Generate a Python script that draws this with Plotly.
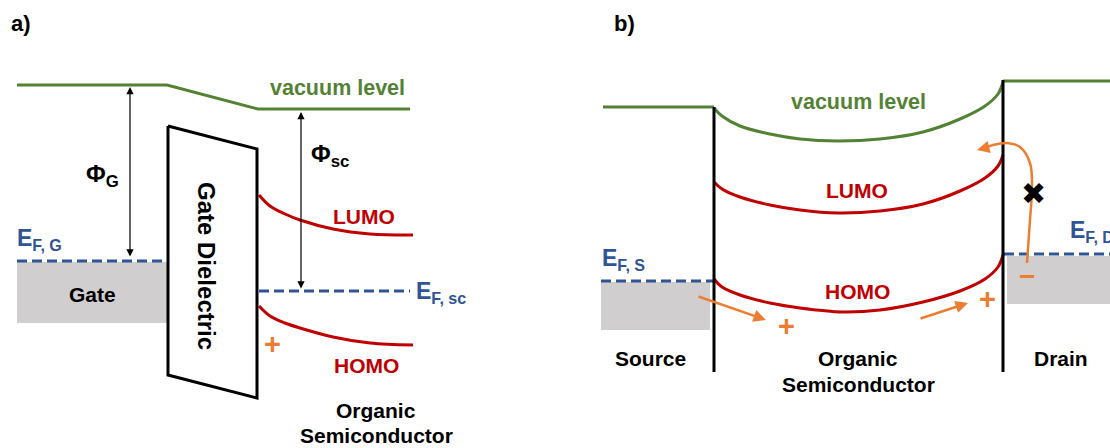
import plotly.graph_objects as go

# ---------- colours ----------
GREEN = "#548235"
RED = "#c00000"
BLUE = "#2f5597"
ORANGE = "#ed7d31"
GRAY = "#d0cece"
FONT = "Liberation Sans"

# ---------- panel a data (pixel-space diagram coordinates) ----------
a_vac_x = [17, 167, 258, 410]
a_vac_y = [85, 85, 109, 109]
a_diel_x = [168, 257, 257, 168, 168]
a_diel_y = [126, 149, 398, 375, 126]
a_gate_x = [17, 167]
a_gate_y = [262, 323]
a_efg_x = [17, 167]
a_efg_y = [261, 261]
a_efsc_x = [259, 410]
a_efsc_y = [291, 291]
a_lumo_x = [259, 270, 285, 300, 333, 370, 413]
a_lumo_y = [195, 206, 214, 220, 229, 234, 235]
a_homo_x = [259, 270, 285, 300, 333, 370, 413]
a_homo_y = [306, 316, 323, 328, 337, 343, 345]

# ---------- panel b data ----------
b_vac_left_x = [603, 714]
b_vac_left_y = [107, 107]
b_vac_right_x = [1003, 1110]
b_vac_right_y = [81, 81]
b_vac_x = [714, 722, 740, 770, 800, 838, 880, 923, 960, 985, 998, 1003]
b_vac_y = [108, 116, 126, 134, 139, 141, 139, 132, 119, 106, 94, 82]
b_lumo_x = [714, 722, 740, 770, 800, 838, 880, 923, 960, 985, 998, 1003]
b_lumo_y = [182, 189, 197, 205, 210, 213, 211, 204, 191, 178, 166, 155]
b_homo_x = [714, 722, 740, 770, 800, 843, 880, 923, 960, 985, 998, 1003]
b_homo_y = [279, 287, 295, 303, 308, 312, 310, 302, 291, 279, 267, 255]
b_wall_x = [714, 1003]
b_wall_top = [107, 80]
b_wall_bottom = [372, 372]
b_src_x = [601, 710]
b_src_y = [282, 330]
b_drn_x = [1007, 1110]
b_drn_y = [256, 304]
b_efs_x = [601, 713]
b_efs_y = [281, 281]
b_efd_x = [1004, 1110]
b_efd_y = [254, 254]
b_hop_x = [1027, 1030, 1032, 1030, 1020, 1007, 993, 985]
b_hop_y = [263, 220, 187, 163, 147, 143, 145, 148]

fig = go.Figure()


def line(x, y, color, width=3, dash=None, shape="linear"):
    fig.add_trace(go.Scatter(x=x, y=y, mode="lines", line=dict(color=color, width=width,
                             dash=dash, shape=shape, smoothing=1.0),
                             hoverinfo="skip", showlegend=False))


def text(x, y, s, color="black", size=21, angle=0, xanchor="center", bold=True):
    fig.add_annotation(x=x, y=y, text=f"<b>{s}</b>" if bold else s, showarrow=False,
                       font=dict(family=FONT, size=size, color=color), textangle=angle,
                       xanchor=xanchor, yanchor="middle")


def arrow(x0, y0, x1, y1, color, width=1, head=2, size=1.0, both=False):
    fig.add_annotation(x=x1, y=y1, ax=x0, ay=y0, xref="x", yref="y", axref="x", ayref="y",
                       text="", showarrow=True, arrowhead=head, arrowsize=size,
                       arrowwidth=width, arrowcolor=color,
                       arrowside="end+start" if both else "end", startarrowhead=head,
                       startarrowsize=size)


shapes = []
for xs, ys in [(a_gate_x, a_gate_y), (b_src_x, b_src_y), (b_drn_x, b_drn_y)]:
    shapes.append(dict(type="rect", x0=xs[0], x1=xs[1], y0=ys[0], y1=ys[1],
                       fillcolor=GRAY, line=dict(width=0), layer="below"))
fig.update_layout(shapes=shapes)

# ---------- panel a ----------
line(a_vac_x, a_vac_y, GREEN)
line(a_efg_x, a_efg_y, BLUE, dash="10px,5px")
line(a_efsc_x, a_efsc_y, BLUE, dash="10px,5px")
line(a_lumo_x, a_lumo_y, RED, shape="spline")
line(a_homo_x, a_homo_y, RED, shape="spline")
fig.add_trace(go.Scatter(x=a_diel_x, y=a_diel_y, mode="lines", fill="toself", fillcolor="white",
                         line=dict(color="black", width=3), hoverinfo="skip", showlegend=False))
arrow(130, 258, 130, 87, "black", width=1.2, head=2, size=1.2, both=True)
arrow(301, 290, 301, 112, "black", width=1.2, head=2, size=1.2, both=True)

text(9, 23, "a)", xanchor="left", size=22)
text(337, 88, "vacuum level", GREEN, 21.5)
text(102, 175, "Φ<sub>G</sub>", size=24)
text(330, 155, "Φ<sub>sc</sub>", size=24)
text(207, 266, "Gate Dielectric", size=24, angle=90)
text(15, 239, "E<sub>F, G</sub>", BLUE, 23, xanchor="left")
text(92, 294, "Gate", size=21)
text(364, 216, "LUMO", RED, 21)
text(414, 292, "E<sub>F, sc</sub>", BLUE, 23, xanchor="left")
text(272, 344, "+", ORANGE, 29)
text(366, 365, "HOMO", RED, 21)
text(376, 410, "Organic", size=21)
text(376, 435, "Semiconductor", size=21)

# ---------- panel b ----------
line(b_efs_x, b_efs_y, BLUE, dash="10px,5px")
line(b_efd_x, b_efd_y, BLUE, dash="10px,5px")
line(b_vac_left_x, b_vac_left_y, GREEN)
line(b_vac_right_x, b_vac_right_y, GREEN)
line(b_vac_x, b_vac_y, GREEN, shape="spline")
line(b_lumo_x, b_lumo_y, RED, shape="spline")
line(b_homo_x, b_homo_y, RED, shape="spline")
for i in range(2):
    line([b_wall_x[i], b_wall_x[i]], [b_wall_top[i], b_wall_bottom[i]], "black", width=3)
line(b_hop_x, b_hop_y, ORANGE, width=2.5, shape="spline")
arrow(b_hop_x[-1], b_hop_y[-1], 977, 150, ORANGE, width=2.5, head=2, size=1.0)
arrow(697, 296, 766, 320, ORANGE, width=2.5, head=2, size=1.0)
arrow(919, 319, 968, 303, ORANGE, width=2.5, head=2, size=1.0)

text(612, 23, "b)", xanchor="left", size=22)
text(858, 102, "vacuum level", GREEN, 21.5)
text(857, 190, "LUMO", RED, 21)
text(857, 291, "HOMO", RED, 21)
text(600, 259, "E<sub>F, S</sub>", BLUE, 23, xanchor="left")
text(1068, 231, "E<sub>F, D</sub>", BLUE, 23, xanchor="left")
text(786, 326, "+", ORANGE, 29)
text(987, 299, "+", ORANGE, 29)
text(1027, 276, "−", ORANGE, 28)
text(1033, 193, "✖", "black", 30, bold=False)
text(650, 358, "Source", size=21)
text(1061, 358, "Drain", size=21)
text(858, 358, "Organic", size=21)
text(858, 384, "Semiconductor", size=21)

fig.update_layout(width=1110, height=448, margin=dict(l=0, r=0, t=0, b=0),
                  paper_bgcolor="white", plot_bgcolor="white",
                  xaxis=dict(range=[0, 1110], visible=False, fixedrange=True),
                  yaxis=dict(range=[448, 0], visible=False, fixedrange=True),
                  showlegend=False)
fig.write_html("out.html")
